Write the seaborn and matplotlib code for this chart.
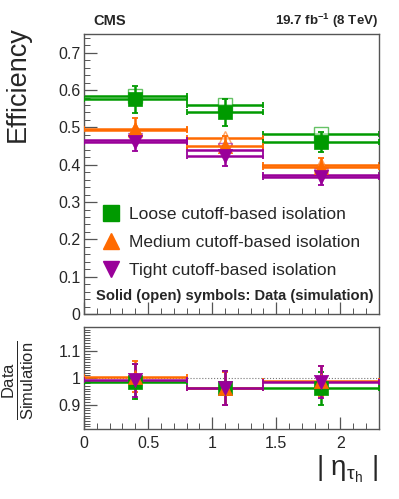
import numpy as np
import pandas as pd
import seaborn as sns
import matplotlib.pyplot as plt
from matplotlib.ticker import MultipleLocator

# bins in |eta|
bin_lo = [0.0, 0.8, 1.4]
bin_hi = [0.8, 1.4, 2.3]
bin_center = [0.4, 1.1, 1.85]

# efficiencies
loose_data = [0.575, 0.541, 0.462]
loose_data_err = [0.037, 0.036, 0.027]
loose_sim = [0.584, 0.561, 0.482]
medium_data = [0.497, 0.451, 0.395]
medium_data_err = [0.027, 0.027, 0.023]
medium_sim = [0.494, 0.471, 0.400]
tight_data = [0.462, 0.424, 0.366]
tight_data_err = [0.025, 0.027, 0.021]
tight_sim = [0.466, 0.440, 0.372]

# data / simulation
loose_ratio = [0.986, 0.963, 0.961]
loose_ratio_err = [0.066, 0.064, 0.060]
medium_ratio = [1.005, 0.962, 0.989]
medium_ratio_err = [0.058, 0.062, 0.056]
tight_ratio = [0.991, 0.963, 0.985]
tight_ratio_err = [0.060, 0.063, 0.058]

labels = ["Loose cutoff-based isolation", "Medium cutoff-based isolation",
          "Tight cutoff-based isolation"]
colors = ["#009a00", "#ff6a00", "#990099"]
markers = ["s", "^", "v"]

sns.set_theme(style="ticks")
plt.rcParams['font.family'] = ['Liberation Sans', 'DejaVu Sans']
plt.rcParams['mathtext.fontset'] = 'custom'
plt.rcParams['mathtext.rm'] = 'Liberation Sans'
plt.rcParams['mathtext.it'] = 'Liberation Sans:italic'
plt.rcParams['mathtext.bf'] = 'Liberation Sans:bold'

fig = plt.figure(figsize=(3.99, 4.99), dpi=100)
ax = fig.add_axes([0.2105, 0.3707, 0.739, 0.561])
rax = fig.add_axes([0.2105, 0.1403, 0.739, 0.2044])

xc = np.array(bin_center)
xerr = np.array([xc - np.array(bin_lo), np.array(bin_hi) - xc])

series = [
    (loose_data, loose_data_err, loose_sim, loose_ratio, loose_ratio_err),
    (medium_data, medium_data_err, medium_sim, medium_ratio, medium_ratio_err),
    (tight_data, tight_data_err, tight_sim, tight_ratio, tight_ratio_err),
]

# simulation first (open symbols)
for (d, de, s, r, re), c, m in zip(series, colors, markers):
    ax.errorbar(xc, s, xerr=xerr, fmt='none', ecolor=c, elinewidth=1.8,
                capsize=2.5, capthick=1.3, zorder=2)
    ax.plot(xc, s, linestyle='none', marker=m, markersize=10,
            markerfacecolor='white', markeredgecolor=c, markeredgewidth=1.0,
            alpha=0.6, zorder=3)

for (d, de, s, r, re), c, m, lab in zip(series, colors, markers, labels):
    ax.errorbar(xc, d, xerr=xerr, yerr=np.array(de), fmt='none', ecolor=c,
                elinewidth=1.8, capsize=2.5, capthick=1.3, zorder=4)
    df = pd.DataFrame({"x": xc, "y": d})
    sns.scatterplot(data=df, x="x", y="y", ax=ax, marker=m, s=105, color=c,
                    edgecolor=c, linewidth=0.5, zorder=5, legend=False)
    rax.errorbar(xc, r, xerr=xerr, yerr=np.array(re), fmt='none', ecolor=c,
                 elinewidth=1.8, capsize=2.0, capthick=1.3, zorder=4)
    dfr = pd.DataFrame({"x": xc, "y": r})
    sns.scatterplot(data=dfr, x="x", y="y", ax=rax, marker=m, s=105, color=c,
                    edgecolor=c, linewidth=0.5, zorder=5, legend=False)
    ax.plot([], [], linestyle='none', marker=m, markersize=11, color=c, label=lab)

rax.axhline(1.0, color='#777777', lw=0.8, ls=':', zorder=1)

for a in (ax, rax):
    a.set_xlim(0, 2.3)
    a.xaxis.set_major_locator(MultipleLocator(0.5))
    a.xaxis.set_minor_locator(MultipleLocator(0.1))
    a.tick_params(which='both', direction='in', color='#555555', top=False,
                  right=False, labelsize=11.5, pad=2.5)
    a.tick_params(which='major', length=9, width=0.9)
    a.tick_params(which='minor', length=4.5, width=0.7)
    for sp in a.spines.values():
        sp.set_color('#555555')
        sp.set_linewidth(1.0)
    a.set_xlabel("")
    a.set_ylabel("")

ax.set_ylim(0, 0.75)
ax.yaxis.set_major_locator(MultipleLocator(0.1))
ax.yaxis.set_minor_locator(MultipleLocator(0.02))
ax.set_yticks([0, 0.1, 0.2, 0.3, 0.4, 0.5, 0.6, 0.7])
ax.set_yticklabels(["0", "0.1", "0.2", "0.3", "0.4", "0.5", "0.6", "0.7"])
ax.tick_params(axis='x', labelbottom=False)

rax.set_ylim(0.81, 1.19)
rax.set_yticks([0.9, 1.0, 1.1])
rax.set_yticklabels(["0.9", "1", "1.1"])
rax.yaxis.set_minor_locator(MultipleLocator(0.01))
rax.set_xticks([0, 0.5, 1, 1.5, 2])
rax.set_xticklabels(["0", "0.5", "1", "1.5", "2"])
rax.tick_params(axis='x', which='major', pad=5)

leg = ax.legend(loc='upper left', bbox_to_anchor=(0.015, 0.425), frameon=False,
                fontsize=12.5, handletextpad=0.45, labelspacing=0.74,
                handlelength=1.2, borderaxespad=0.3)
ax.text(0.04, 0.063, "Solid (open) symbols: Data (simulation)",
        transform=ax.transAxes, fontsize=10.6, fontweight='bold', va='center')

fig.text(0.235, 0.958, "CMS", fontsize=10.5, fontweight='bold', va='center')
fig.text(0.948, 0.958, r"19.7 fb$^{\mathbf{-1}}$ (8 TeV)", fontsize=9.6,
         fontweight='bold', ha='right', va='center')
fig.text(0.045, 0.832, "Efficiency", fontsize=19.5, rotation=90,
         ha='center', va='center')
fig.text(0.045, 0.238, r"$\frac{\mathrm{Data}}{\mathrm{Simulation}}$",
         fontsize=17, rotation=90, ha='center', va='center')
fig.text(0.948, 0.06, r"$|\ \mathrm{\eta}_{\mathrm{\tau}_{\mathrm{h}}}\ |$",
         fontsize=20, ha='right', va='center')

fig.savefig("out.png", dpi=100)
